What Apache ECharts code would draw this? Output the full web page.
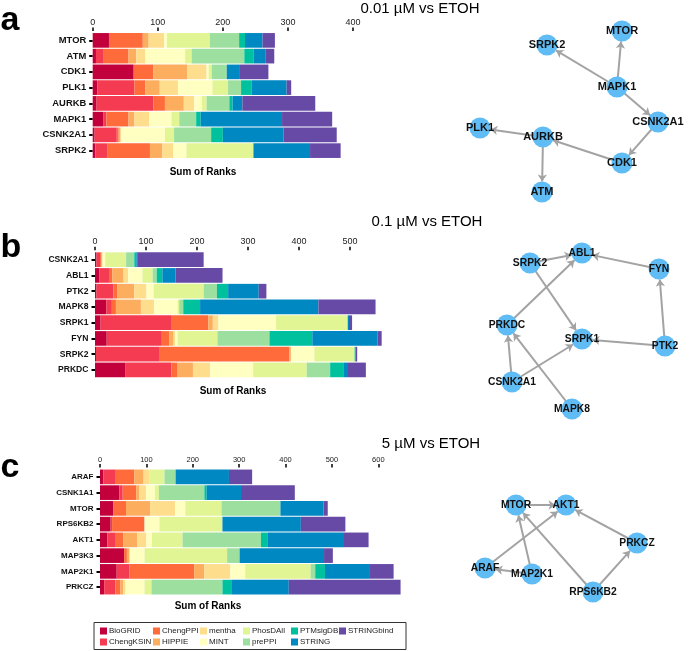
<!DOCTYPE html>
<html><head><meta charset="utf-8">
<script src="https://cdn.jsdelivr.net/npm/echarts@6/dist/echarts.min.js"></script>
<style>html,body{margin:0;padding:0;background:#fff}#c{width:691px;height:651px}</style>
</head><body><div id="c"></div>
<script>
// ---- legend / series ----
const sources = ['BioGRID','ChengKSIN','ChengPPI','HIPPIE','mentha','MINT','PhosDAll','prePPI','PTMsigDB','STRING','STRINGbind'];
const colors  = ['#c1003c','#f43b52','#ff6b3b','#fdad5e','#fedd8c','#ffffc2','#e2f595','#9ddf9f','#00c19e','#0088c2','#674aa6'];

// ---- panel a : 0.01 µM vs ETOH ----
const catsA = ['MTOR','ATM','CDK1','PLK1','AURKB','MAPK1','CSNK2A1','SRPK2'];
const aBioGRID    = [25, 5, 63, 7, 6, 16, 3, 4];
const aChengKSIN  = [0, 12, 0, 57, 87, 5, 34, 19];
const aChengPPI   = [52, 38, 30, 17, 18, 34, 3, 65];
const aHIPPIE     = [9, 12, 52, 22, 29, 9, 3, 19];
const aMentha     = [24, 14, 30, 28, 16, 23, 0, 17];
const aMINT       = [4, 61, 3, 53, 12, 34, 68, 20];
const aPhosDAll   = [66, 10, 5, 24, 7, 12, 14, 103];
const aPrePPI     = [45, 81, 23, 20, 35, 26, 57, 0];
const aPTMsigDB   = [9, 14, 0, 16, 5, 7, 18, 0];
const aSTRING     = [27, 19, 19, 54, 15, 125, 93, 87];
const aSTRINGbind = [19, 13, 45, 7, 112, 77, 82, 47];

// ---- panel b : 0.1 µM vs ETOH ----
const catsB = ['CSNK2A1','ABL1','PTK2','MAPK8','SRPK1','FYN','SRPK2','PRKDC'];
const bBioGRID    = [3, 9, 3, 22, 11, 23, 2, 59];
const bChengKSIN  = [7, 20, 33, 11, 138, 108, 125, 91];
const bChengPPI   = [3, 5, 8, 8, 73, 15, 254, 12];
const bHIPPIE     = [0, 22, 33, 49, 9, 8, 3, 30];
const bMentha     = [2, 9, 24, 26, 11, 3, 0, 34];
const bMINT       = [5, 28, 14, 46, 113, 5, 46, 84];
const bPhosDAll   = [41, 20, 98, 3, 139, 78, 79, 105];
const bPrePPI     = [16, 8, 26, 8, 2, 102, 0, 46];
const bPTMsigDB   = [4, 11, 22, 33, 0, 84, 1, 27];
const bSTRING     = [3, 26, 60, 232, 2, 128, 1, 8];
const bSTRINGbind = [129, 92, 15, 112, 6, 8, 3, 35];

// ---- panel c : 5 µM vs ETOH ----
const catsC = ['ARAF','CSNK1A1','MTOR','RPS6KB2','AKT1','MAP3K3','MAP2K1','PRKCZ'];
const cBioGRID    = [7, 42, 29, 23, 16, 52, 36, 9];
const cChengKSIN  = [27, 7, 0, 3, 18, 0, 27, 24];
const cChengPPI   = [40, 29, 27, 70, 16, 6, 140, 11];
const cHIPPIE     = [20, 7, 52, 0, 30, 6, 22, 6];
const cMentha     = [13, 14, 54, 0, 20, 0, 56, 5];
const cMINT       = [0, 19, 22, 32, 12, 32, 32, 41];
const cPhosDAll   = [32, 9, 78, 136, 66, 178, 141, 15];
const cPrePPI     = [24, 98, 127, 0, 169, 27, 10, 153];
const cPTMsigDB   = [0, 5, 0, 0, 15, 0, 21, 19];
const cSTRING     = [115, 74, 93, 169, 162, 182, 97, 124];
const cSTRINGbind = [50, 116, 9, 96, 55, 19, 51, 241];

const xTicksA = [0,100,200,300,400];
const xTicksB = [0,100,200,300,400,500];
const xTicksC = [0,100,200,300,400,500,600];

// ---- networks (layout units) ----
const netANodes = ['MTOR','SRPK2','MAPK1','CSNK2A1','PLK1','AURKB','CDK1','ATM'];
const netAX = [172, 97, 167, 208, 30, 93, 172, 92];
const netAY = [21, 35, 77, 112, 118, 127, 153, 182];
const netASrc = ['MAPK1','MAPK1','MAPK1','CSNK2A1','CDK1','AURKB','AURKB'];
const netATgt = ['SRPK2','MTOR','CSNK2A1','CDK1','AURKB','PLK1','ATM'];

const netBNodes = ['ABL1','SRPK2','FYN','PRKDC','SRPK1','PTK2','CSNK2A1','MAPK8'];
const netBX = [132, 80, 209, 57, 132, 215, 62, 122];
const netBY = [23, 33, 39, 95, 109, 116, 152, 179];
const netBSrc = ['SRPK2','FYN','PTK2','PTK2','SRPK2','PRKDC','CSNK2A1','CSNK2A1','MAPK8'];
const netBTgt = ['ABL1','ABL1','FYN','SRPK1','SRPK1','ABL1','PRKDC','SRPK1','PRKDC'];

const netCNodes = ['MTOR','AKT1','PRKCZ','ARAF','MAP2K1','RPS6KB2'];
const netCX = [66, 116, 187, 35, 82, 143];
const netCY = [55, 55, 93, 118, 124, 142];
const netCSrc = ['MTOR','PRKCZ','ARAF','MAP2K1','MAP2K1','RPS6KB2','RPS6KB2'];
const netCTgt = ['AKT1','AKT1','AKT1','MTOR','ARAF','MTOR','PRKCZ'];

// ---- build ----
const panels = [
  {cats: catsA, vals: [aBioGRID,aChengKSIN,aChengPPI,aHIPPIE,aMentha,aMINT,aPhosDAll,aPrePPI,aPTMsigDB,aSTRING,aSTRINGbind],
   ticks: xTicksA, max: 400, grid: {left: 92.7, top: 32.5, width: 260.3, height: 126}, yFont: 9.4, xFont: 9},
  {cats: catsB, vals: [bBioGRID,bChengKSIN,bChengPPI,bHIPPIE,bMentha,bMINT,bPhosDAll,bPrePPI,bPTMsigDB,bSTRING,bSTRINGbind],
   ticks: xTicksB, max: 565, grid: {left: 95, top: 251.8, width: 288.2, height: 126}, yFont: 8.6, xFont: 9},
  {cats: catsC, vals: [cBioGRID,cChengKSIN,cChengPPI,cHIPPIE,cMentha,cMINT,cPhosDAll,cPrePPI,cPTMsigDB,cSTRING,cSTRINGbind],
   ticks: xTicksC, max: 650, grid: {left: 100, top: 469, width: 301.5, height: 126}, yFont: 8, xFont: 7.5}
];
const nets = [
  {nodes: netANodes, x: netAX, y: netAY, src: netASrc, tgt: netATgt, top: 10, font: 11},
  {nodes: netBNodes, x: netBX, y: netBY, src: netBSrc, tgt: netBTgt, top: 230, font: 10.3},
  {nodes: netCNodes, x: netCX, y: netCY, src: netCSrc, tgt: netCTgt, top: 450, font: 10.3}
];

const grid = [], xAxis = [], yAxis = [], series = [];
panels.forEach((p, i) => {
  grid.push(Object.assign({containLabel: false}, p.grid));
  xAxis.push({
    gridIndex: i, type: 'value', position: 'top', min: 0, max: p.max, interval: 100, offset: 1.5,
    axisLine: {show: false}, splitLine: {show: false},
    axisTick: {show: true, length: 3.5, customValues: p.ticks, lineStyle: {color: '#000', width: 1.5}},
    axisLabel: {fontSize: p.xFont, color: '#222', margin: 4, customValues: p.ticks, fontFamily: 'Liberation Sans'}
  });
  yAxis.push({
    gridIndex: i, type: 'category', data: p.cats, inverse: true, offset: 1.5,
    axisLine: {show: false},
    axisTick: {show: true, alignWithLabel: true, length: 3.5, lineStyle: {color: '#000', width: 2}},
    axisLabel: {fontSize: p.yFont, fontWeight: 'bold', color: '#111', margin: 5, fontFamily: 'Liberation Sans'}
  });
  sources.forEach((s, k) => {
    series.push({
      type: 'bar', name: s, xAxisIndex: i, yAxisIndex: i, stack: 'p' + i,
      data: p.vals[k], barCategoryGap: '7%',
      itemStyle: {color: colors[k]}, emphasis: {disabled: true}
    });
  });
});
nets.forEach((n, j) => {
  const gi = 3 + j;
  grid.push({left: 450, top: n.top, width: 240, height: 200});
  xAxis.push({gridIndex: gi, type: 'value', min: 0, max: 240, show: false});
  yAxis.push({gridIndex: gi, type: 'value', min: 0, max: 200, inverse: true, show: false});
  series.push({
    type: 'graph', name: 'network' + j, coordinateSystem: 'cartesian2d', xAxisIndex: gi, yAxisIndex: gi,
    symbolSize: 21, itemStyle: {color: '#60bcf5'},
    label: {show: true, position: 'inside', color: '#111', fontWeight: 'bold', fontSize: n.font, fontFamily: 'Liberation Sans'},
    edgeSymbol: ['none', 'arrow'], edgeSymbolSize: [0, 7],
    lineStyle: {color: '#a3a3a3', width: 2, opacity: 1, curveness: 0},
    emphasis: {disabled: true},
    data: n.nodes.map((name, k) => ({name: name, value: [n.x[k], n.y[k]]})),
    links: n.src.map((s, k) => ({source: s, target: n.tgt[k]}))
  });
});

const legendCols = [['BioGRID','ChengKSIN'],['ChengPPI','HIPPIE'],['mentha','MINT'],['PhosDAll','prePPI'],['PTMsigDB','STRING'],['STRINGbind']];
const legendX = [100, 153, 200, 243, 291, 339];
const legend = legendCols.map((d, i) => ({
  data: d, orient: 'vertical', left: legendX[i], top: 626.5, padding: 0, itemGap: 2,
  itemWidth: 7, itemHeight: 7, icon: 'rect', selectedMode: false,
  textStyle: {fontSize: 8, color: '#222', lineHeight: 9, fontFamily: 'Liberation Sans', padding: [0,0,0,-3]}
}));

function txt(x, y, text, size, weight) {
  return {type: 'text', x: x, y: y, style: {text: text, fontSize: size, fontWeight: weight || 'normal',
    fontFamily: 'Liberation Sans', fill: '#000', align: 'center', verticalAlign: 'middle',
    textAlign: 'center', textVerticalAlign: 'middle'}};
}
const graphic = [
  Object.assign(txt(10, 21, 'a', 34, 'bold'), {}),
  txt(11, 248, 'b', 34, 'bold'),
  txt(10, 468, 'c', 34, 'bold'),
  txt(420, 9, '0.01 µM vs ETOH', 15),
  txt(427, 222, '0.1 µM vs ETOH', 15),
  txt(431, 444, '5 µM vs ETOH', 15),
  txt(203, 172, 'Sum of Ranks', 10, 'bold'),
  txt(233, 391, 'Sum of Ranks', 10, 'bold'),
  txt(208, 606, 'Sum of Ranks', 10, 'bold'),
  {type: 'rect', shape: {x: 94, y: 622.5, width: 312, height: 27}, style: {fill: 'none', stroke: '#333', lineWidth: 1}}
];

const chart = echarts.init(document.getElementById('c'));
chart.setOption({animation: false, backgroundColor: '#fff', grid, xAxis, yAxis, series, legend, graphic,
  textStyle: {fontFamily: 'Liberation Sans'}});
</script></body></html>
